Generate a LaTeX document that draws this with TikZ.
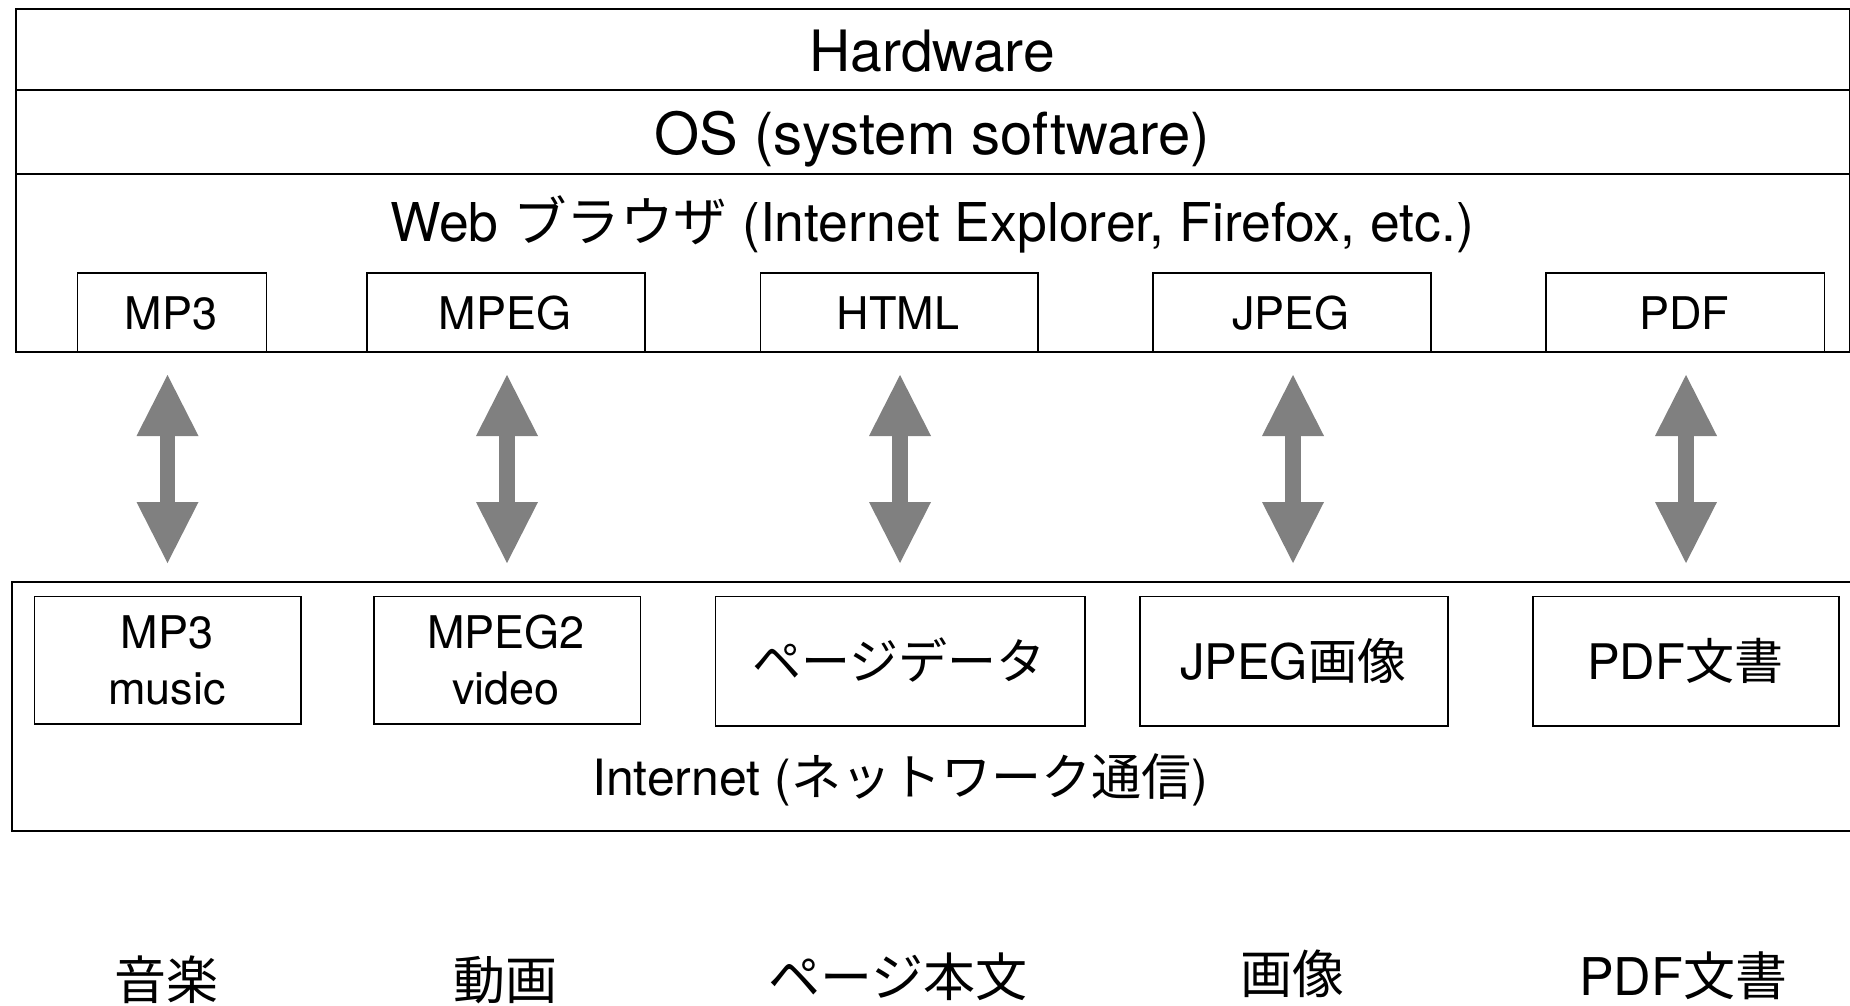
\documentclass[tikz,border=0pt]{standalone}
\usepackage{fontspec}
\setmainfont{TeX Gyre Heros}
\newfontfamily\jp{Noto Sans CJK JP}
\usetikzlibrary{arrows.meta}
\definecolor{arrgray}{RGB}{128,128,128}
\begin{document}
\begin{tikzpicture}[x=1pt,y=-1pt,
  layer/.style={draw, line width=2pt, rectangle, inner sep=0pt, anchor=north west},
  boxbig/.style={draw, line width=1.7pt, rectangle, inner sep=0pt, anchor=north west, fill=white},
  txt/.style={anchor=base, inner sep=0pt},
  fA/.style={font=\fontsize{57}{60}\selectfont},
  fO/.style={font=\fontsize{58}{60}\selectfont},
  fW/.style={font=\fontsize{53.5}{60}\selectfont},
  fS/.style={font=\fontsize{45}{50}\selectfont},
  fL/.style={font=\fontsize{49}{55}\selectfont},
  fI/.style={font=\fontsize{50}{55}\selectfont},
  fB/.style={font=\fontsize{52}{56}\selectfont},
  dblarrow/.style={draw=arrgray, line width=15.7pt,
    {Triangle[length=61pt,width=62pt,line width=0pt]}-{Triangle[length=61pt,width=62pt,line width=0pt]}}
]
\useasboundingbox (0,0) rectangle (1850,1006);
\fill[white] (0,0) rectangle (1850,1006);

% top layers
\node[layer, minimum width=1834pt, minimum height=81pt] (hw) at (14.5,8) {};
\node[layer, minimum width=1834pt, minimum height=83.5pt] (os) at (14.5,89) {};
\node[layer, minimum width=1834pt, minimum height=178.5pt] (web) at (14.5,172.5) {};

\node[txt, fA] (hwt) at (932,72) {Hardware};
\node[txt, fO] (ost) at (932,155) {OS (system software)};
\node[txt, fW] (webt) at (932,241) {Web {\jp ブラウザ} (Internet Explorer, Firefox, etc.)};

% browser plug-in boxes
\node[boxbig, minimum width=189pt, minimum height=78.7pt] (t1) at (76.7,272.3) {};
\node[boxbig, minimum width=278pt, minimum height=78.7pt] (t2) at (366,272.3) {};
\node[boxbig, minimum width=277.5pt, minimum height=78.7pt] (t3) at (759.5,272.3) {};
\node[boxbig, minimum width=278pt, minimum height=78.7pt] (t4) at (1152,272.3) {};
\node[boxbig, minimum width=278.5pt, minimum height=78.7pt] (t5) at (1545,272.3) {};

\node[txt, fS] at (171.2,329) {MP3};
\node[txt, fS] at (505,329) {MPEG};
\node[txt, fS] at (898.2,329) {HTML};
\node[txt, fS] at (1291,329) {JPEG};
\node[txt, fS] at (1684.2,329) {PDF};

% internet layer
\node[layer, minimum width=1859.4pt, minimum height=248.4pt] (net) at (10.6,581.3) {};
\node[txt, fI] (nett) at (900,795) {Internet ({\jp ネットワーク通信})};

\node[boxbig, minimum width=266.7pt, minimum height=127.3pt] (b1) at (33.6,595.7) {};
\node[boxbig, minimum width=266.5pt, minimum height=127.3pt] (b2) at (373,595.7) {};
\node[boxbig, minimum width=369.8pt, minimum height=129.3pt] (b3) at (714.5,595.7) {};
\node[boxbig, minimum width=308pt, minimum height=129.3pt] (b4) at (1139,595.7) {};
\node[boxbig, minimum width=306pt, minimum height=129.3pt] (b5) at (1532,595.7) {};

\node[txt, fS] at (166.8,648) {MP3};
\node[txt, fS] at (166.8,704) {music};
\node[txt, fS] at (506.2,648) {MPEG2};
\node[txt, fS] at (506.2,704) {video};
\node[txt, fL] at (899.4,679) {\jp ページデータ};
\node[txt, fL] at (1293,679) {JPEG{\jp 画像}};
\node[txt, fL] at (1685,679) {PDF{\jp 文書}};

% double arrows
\coordinate (a1t) at (167.5,375); \coordinate (a1b) at (167.5,563);
\coordinate (a2t) at (507,375);   \coordinate (a2b) at (507,563);
\coordinate (a3t) at (900,375);   \coordinate (a3b) at (900,563);
\coordinate (a4t) at (1293,375);  \coordinate (a4b) at (1293,563);
\coordinate (a5t) at (1686,375);  \coordinate (a5b) at (1686,563);
\draw[dblarrow] (a1t) -- (a1b);
\draw[dblarrow] (a2t) -- (a2b);
\draw[dblarrow] (a3t) -- (a3b);
\draw[dblarrow] (a4t) -- (a4b);
\draw[dblarrow] (a5t) -- (a5b);

% bottom captions
\node[txt, fB] at (166,999) {\jp 音楽};
\node[txt, fB] at (505,999) {\jp 動画};
\node[txt, fB] at (898,996) {\jp ページ本文};
\node[txt, fB] at (1292,993) {\jp 画像};
\node[txt, fB] at (1683,995) {PDF{\jp 文書}};
\end{tikzpicture}
\end{document}
